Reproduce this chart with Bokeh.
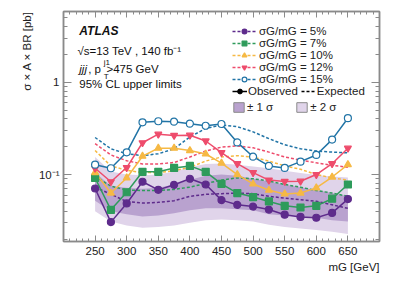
from bokeh.plotting import figure
from bokeh.models import (Label, Legend, LegendItem, FixedTicker, LogAxis, LinearAxis, Title)
from bokeh.embed import file_html
from bokeh.resources import INLINE

# ---------------- data ----------------
mass = [250, 275, 300, 325, 350, 375, 400, 425, 450, 475, 500, 525, 550, 575, 600, 625, 650]

obs5 = [0.0706, 0.0305, 0.0486, 0.0835, 0.0682, 0.0774, 0.090, 0.078, 0.0528, 0.047, 0.045,
        0.0417, 0.0367, 0.0347, 0.034, 0.0384, 0.0542]
obs7 = [0.0918, 0.0414, 0.0643, 0.107, 0.107, 0.118, 0.124, 0.107, 0.0794, 0.063, 0.057,
        0.0511, 0.0458, 0.0439, 0.0458, 0.0547, 0.078]
obs10 = [0.105, 0.063, 0.0918, 0.158, 0.193, 0.193, 0.182, 0.167, 0.133, 0.0998, 0.079,
         0.0676, 0.0616, 0.063, 0.0717, 0.094, 0.128]
obs12 = [0.117, 0.0835, 0.119, 0.221, 0.274, 0.265, 0.267, 0.231, 0.173, 0.131, 0.105,
         0.087, 0.0843, 0.0847, 0.100, 0.131, 0.193]
obs15 = [0.128, 0.117, 0.174, 0.368, 0.378, 0.374, 0.356, 0.338, 0.353, 0.223, 0.156,
         0.124, 0.118, 0.138, 0.163, 0.239, 0.408]

exp5 = [0.073, 0.061, 0.051, 0.049, 0.050, 0.052, 0.058, 0.061, 0.062, 0.063, 0.062,
        0.058, 0.0556, 0.0534, 0.0513, 0.047, 0.043]
exp7 = [0.095, 0.075, 0.068, 0.067, 0.067, 0.069, 0.073, 0.080, 0.087, 0.092, 0.090,
        0.085, 0.078, 0.073, 0.067, 0.063, 0.058]
exp10 = [0.182, 0.124, 0.111, 0.105, 0.105, 0.110, 0.120, 0.140, 0.155, 0.160, 0.155,
         0.140, 0.124, 0.114, 0.100, 0.092, 0.087]
exp12 = [0.216, 0.163, 0.141, 0.130, 0.130, 0.135, 0.155, 0.180, 0.198, 0.204, 0.195,
         0.175, 0.155, 0.143, 0.134, 0.126, 0.120]
exp15 = [0.252, 0.190, 0.168, 0.160, 0.168, 0.190, 0.255, 0.316, 0.344, 0.330, 0.290,
         0.245, 0.210, 0.190, 0.180, 0.175, 0.172]

band_m2 = [0.040, 0.031, 0.028, 0.0265, 0.027, 0.028, 0.030, 0.032, 0.0325, 0.032, 0.031,
           0.0285, 0.027, 0.026, 0.025, 0.024, 0.0227]
band_m1 = [0.052, 0.040, 0.037, 0.035, 0.036, 0.038, 0.041, 0.043, 0.043, 0.042, 0.041,
           0.037, 0.036, 0.035, 0.034, 0.032, 0.031]
band_p1 = [0.105, 0.075, 0.072, 0.070, 0.072, 0.078, 0.088, 0.097, 0.100, 0.097, 0.090,
           0.084, 0.078, 0.073, 0.068, 0.063, 0.058]
band_p2 = [0.155, 0.108, 0.100, 0.098, 0.100, 0.108, 0.120, 0.130, 0.132, 0.128, 0.122,
           0.117, 0.110, 0.104, 0.099, 0.095, 0.093]

series_labels = ["σG/mG = 5%", "σG/mG = 7%", "σG/mG = 10%", "σG/mG = 12%", "σG/mG = 15%"]
x_ticks = [250, 300, 350, 400, 450, 500, 550, 600, 650]
y_ticks = [0.1, 1]
y_tick_labels = {0.1: "10⁻¹", 1: "1"}

# ---------------- styles ----------------
FONT = "Liberation Sans"
colors = ["#5e2b8c", "#2e9b5b", "#f6b944", "#ee4c6c", "#2174a6"]
markers = ["circle", "square", "triangle", "inverted_triangle", "circle"]
dark_band = "#b9a2cf"
light_band = "#e0d4ea"
frame_col = "#8a8a8a"

p = figure(width=385, height=278, x_range=(200, 700), y_range=(0.0188, 5.85),
           y_axis_type="log", output_backend="svg", toolbar_location=None,
           min_border_left=63, min_border_right=6, min_border_top=11, min_border_bottom=37)
p.grid.visible = False
p.outline_line_color = frame_col
p.outline_line_width = 1.5
p.background_fill_color = "white"

x_minor = list(range(200, 701, 10))
y_minor = [0.02, 0.03, 0.04, 0.05, 0.06, 0.07, 0.08, 0.09,
           0.2, 0.3, 0.4, 0.5, 0.6, 0.7, 0.8, 0.9, 2, 3, 4, 5]

def style_axis(ax, major_in, minor_in, show_labels, ticks=None):
    ax.major_tick_in = major_in
    ax.major_tick_out = 0
    ax.minor_tick_in = minor_in
    ax.minor_tick_out = 0
    ax.major_tick_line_color = frame_col
    ax.minor_tick_line_color = frame_col
    ax.axis_line_color = frame_col
    ax.axis_line_width = 1.5
    if show_labels:
        ax.major_label_text_font = FONT
        ax.major_label_text_font_size = "11.5px"
        ax.major_label_text_color = "#222222"
    else:
        ax.major_label_overrides = {t: "" for t in ticks}
        ax.major_label_text_font_size = "2px"
        ax.major_label_standoff = 0

p.xaxis.ticker = FixedTicker(ticks=x_ticks, minor_ticks=x_minor)
p.yaxis.ticker = FixedTicker(ticks=y_ticks, minor_ticks=y_minor)
p.yaxis.major_label_overrides = y_tick_labels
style_axis(p.xaxis[0], 6, 3, True)
style_axis(p.yaxis[0], 8, 4, True)
p.xaxis.major_label_standoff = 5
p.yaxis.major_label_standoff = 4

top_ax = LinearAxis(ticker=FixedTicker(ticks=x_ticks, minor_ticks=x_minor))
style_axis(top_ax, 6, 3, False, x_ticks)
p.add_layout(top_ax, "above")
right_ax = LogAxis(ticker=FixedTicker(ticks=y_ticks, minor_ticks=y_minor))
style_axis(right_ax, 8, 4, False, y_ticks)
p.add_layout(right_ax, "right")

# axis titles as side-panel titles, aligned to the axis ends
p.add_layout(Title(text="mG [GeV]", align="right", text_font=FONT, text_font_size="11.5px",
                   text_font_style="normal", text_color="#222222", standoff=2), "below")
p.add_layout(Title(text="σ × A × BR [pb]", align="right", text_font=FONT, text_font_size="11.5px",
                   text_font_style="normal", text_color="#222222", standoff=5), "left")

# bands
p.varea(x=mass, y1=band_m2, y2=band_p2, fill_color=light_band)
p.varea(x=mass, y1=band_m1, y2=band_p1, fill_color=dark_band)

obs_all = [obs5, obs7, obs10, obs12, obs15]
exp_all = [exp5, exp7, exp10, exp12, exp15]
exp_r, obs_r = [], []
for i in range(5):
    exp_r.append(p.line(mass, exp_all[i], line_color=colors[i], line_width=1.5, line_dash="3 2"))
for i in range(5):
    p.line(mass, obs_all[i], line_color=colors[i], line_width=1.5)
for i in range(5):
    fill = "white" if i == 4 else colors[i]
    obs_r.append(p.scatter(mass, obs_all[i], marker=markers[i], size=7,
                           fill_color=fill, line_color=colors[i], line_width=1.2))

# hidden renderers that only provide legend glyphs
d_obs_l = p.line(mass, obs5, line_color="black", line_width=1.5, visible=False)
d_obs_s = p.scatter(mass, obs5, marker="circle", size=6, fill_color="black",
                    line_color="black", visible=False)
d_exp_l = p.line(mass, exp5, line_color="black", line_width=1.5, line_dash="3 2", visible=False)
d_b1 = p.quad(left=mass, right=mass, top=band_p1, bottom=band_m1, fill_color=dark_band,
              line_color="#8a8a8a", line_width=1, visible=False)
d_b2 = p.quad(left=mass, right=mass, top=band_p2, bottom=band_m2, fill_color=light_band,
              line_color="#8a8a8a", line_width=1, visible=False)

def mk_legend(items, loc, orientation, glyph_width, spacing, standoff=3):
    lg = Legend(items=items, location=loc, orientation=orientation,
                glyph_width=glyph_width, glyph_height=12, label_height=12, label_width=10,
                label_standoff=standoff, spacing=spacing, padding=0, margin=0,
                border_line_color=None, background_fill_alpha=0,
                inactive_fill_alpha=0,
                label_text_font=FONT, label_text_font_size="11.5px",
                label_text_color="#222222")
    p.add_layout(lg, "center")
    return lg

mk_legend([LegendItem(label=series_labels[i], renderers=[exp_r[i], obs_r[i]]) for i in range(5)],
          (169, 156), "vertical", 24, 0)
mk_legend([LegendItem(label="Observed", renderers=[d_obs_l, d_obs_s]),
           LegendItem(label="Expected", renderers=[d_exp_l])],
          (169, 144), "horizontal", 15, 3, 1)
mk_legend([LegendItem(label="± 1 σ", renderers=[d_b1]),
           LegendItem(label="± 2 σ", renderers=[d_b2])],
          (169, 128), "horizontal", 13, 22, 2)

# texts
def txt(x, y, s, size="11.5px", style="normal", align="left", baseline="middle"):
    p.add_layout(Label(x=x, y=y, text=s, text_font=FONT, text_font_size=size,
                       text_font_style=style, text_align=align, text_baseline=baseline,
                       text_color="#111111"))

txt(225, 3.56, "ATLAS", size="12px", style="bold italic")
txt(222, 2.2, "√s=13 TeV , 140 fb⁻¹")
txt(225, 1.39, "jjj", style="italic")
txt(239, 1.39, ", p")
txt(263.5, 1.62, "j1", size="8px")
txt(263.5, 1.15, "T", size="8px")
txt(268, 1.39, ">475 GeV")
txt(225, 0.95, "95% CL upper limits")

open("out.html", "w").write(file_html(p, INLINE))
